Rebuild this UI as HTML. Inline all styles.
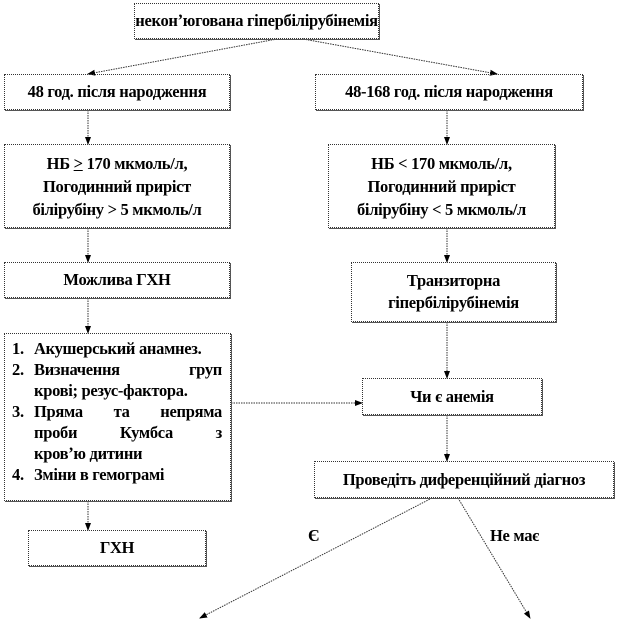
<!DOCTYPE html>
<html><head><meta charset="utf-8"><style>
body{margin:0;width:618px;height:622px;background:#fff;position:relative;overflow:hidden;font-family:"Liberation Serif","DejaVu Serif",serif;font-weight:bold;color:#000}
.b{position:absolute;box-sizing:border-box;border:1px dotted #333;box-shadow:1px 1px 0 #555;display:flex;align-items:center;justify-content:center;text-align:center;font-size:16.5px;line-height:20px;letter-spacing:-0.3px}
.l{position:absolute;font-size:16.5px;letter-spacing:-0.3px}
.li{position:absolute;left:29px;width:188px;text-align:justify;text-align-last:justify}
svg{position:absolute;left:0;top:0}
</style></head><body>
<svg width="618" height="622">
<defs><marker id="a" markerWidth="8" markerHeight="8" refX="7" refY="4" orient="auto" markerUnits="userSpaceOnUse"><path d="M0,1 L8,4 L0,7z" fill="#000"/></marker></defs>
<g stroke="#333" stroke-width="1" stroke-dasharray="1.5,1" fill="none" marker-end="url(#a)">
<line x1="277" y1="39" x2="88" y2="74"/>
<line x1="303" y1="39" x2="497" y2="74"/>
<line x1="88" y1="110" x2="88" y2="144"/>
<line x1="447" y1="110" x2="447" y2="144"/>
<line x1="88" y1="228" x2="88" y2="262"/>
<line x1="447" y1="228" x2="447" y2="262"/>
<line x1="88" y1="298" x2="88" y2="333"/>
<line x1="447" y1="322" x2="447" y2="378"/>
<line x1="231" y1="403" x2="362" y2="403"/>
<line x1="447" y1="415" x2="447" y2="461"/>
<line x1="88" y1="501" x2="88" y2="530"/>
<line x1="432" y1="498" x2="200" y2="618"/>
<line x1="458" y1="498" x2="530" y2="618"/>
</g></svg>
<div class="b" style="left:134px;top:3px;width:245px;height:36px"><span>неконʼюгована гіпербілірубінемія</span></div>
<div class="b" style="left:4px;top:74px;width:226px;height:36px"><span>48 год. після народження</span></div>
<div class="b" style="left:315px;top:74px;width:268px;height:36px"><span>48-168 год. після народження</span></div>
<div class="b" style="left:4px;top:144px;width:226px;height:84px;line-height:23px"><span>НБ <u>&gt;</u> 170 мкмоль/л,<br>Погодинний приріст<br>білірубіну &gt; 5 мкмоль/л</span></div>
<div class="b" style="left:328px;top:144px;width:227px;height:84px;line-height:23px"><span>НБ &lt; 170 мкмоль/л,<br>Погодинний приріст<br>білірубіну &lt; 5 мкмоль/л</span></div>
<div class="b" style="left:4px;top:262px;width:226px;height:36px"><span>Можлива ГХН</span></div>
<div class="b" style="left:351px;top:262px;width:205px;height:60px;line-height:22px"><span>Транзиторна<br>гіпербілірубінемія</span></div>
<div class="b" style="left:4px;top:333px;width:227px;height:168px;display:block;text-align:left">
<div class="l" style="left:7px;top:5px">1.</div><div class="li" style="top:5px;text-align-last:left">Акушерський анамнез.</div>
<div class="l" style="left:7px;top:26px">2.</div><div class="li" style="top:26px">Визначення груп</div>
<div class="li" style="top:47px;text-align-last:left">крові; резус-фактора.</div>
<div class="l" style="left:7px;top:68px">3.</div><div class="li" style="top:68px">Пряма та непряма</div>
<div class="li" style="top:89px">проби Кумбса з</div>
<div class="li" style="top:110px;text-align-last:left">кровʼю дитини</div>
<div class="l" style="left:7px;top:131px">4.</div><div class="li" style="top:131px;text-align-last:left">Зміни в гемограмі</div>
</div>
<div class="b" style="left:362px;top:378px;width:180px;height:37px"><span>Чи є анемія</span></div>
<div class="b" style="left:314px;top:461px;width:300px;height:37px"><span>Проведіть диференційний діагноз</span></div>
<div class="b" style="left:28px;top:530px;width:178px;height:36px"><span>ГХН</span></div>
<div class="l" style="left:308px;top:526px;font-size:17px">Є</div>
<div class="l" style="left:490px;top:526px">Не має</div>
</body></html>
